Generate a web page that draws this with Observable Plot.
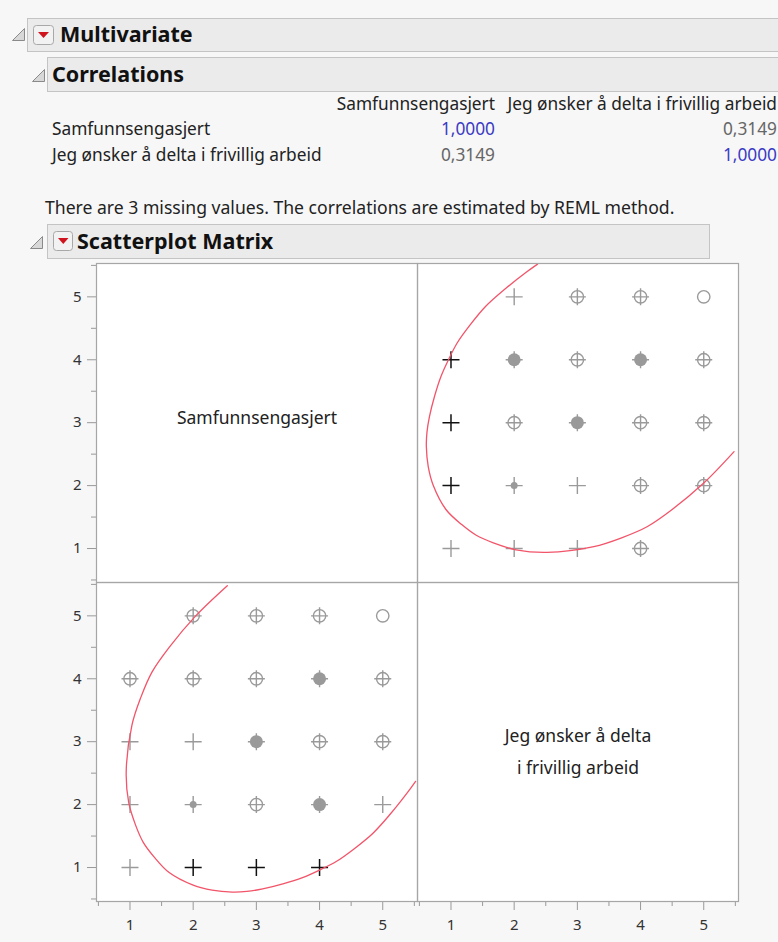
<!DOCTYPE html>
<html>
<head>
<meta charset="utf-8">
<script src="https://cdn.jsdelivr.net/npm/d3@7"></script>
<script src="https://cdn.jsdelivr.net/npm/@observablehq/plot@0.6"></script>
<style>
  html, body { margin: 0; padding: 0; }
  body { width: 778px; height: 942px; background: #f7f7f7; position: relative; overflow: hidden;
         font-family: "Segoe UI", "Noto Sans", sans-serif; color: #222; }
  .bar { position: absolute; background: #ebebeb; border: 1px solid #c4c4c4; box-sizing: border-box; }
  .hdr { position: absolute; font-weight: bold; font-size: 21.5px; color: #111; line-height: 1; }
  .t { position: absolute; font-size: 17.3px; line-height: 1; white-space: nowrap; }
  .note { font-size: 17.6px; }
  .blue { color: #3b3bc4; }
  .gray { color: #666; }
  #chart { position: absolute; left: 40px; top: 258px; }
  #icons { position: absolute; left: 0; top: 0; }
</style>
</head>
<body>
<!-- Multivariate header -->
<div class="bar" style="left:27px;top:18px;width:760px;height:34px;"></div>
<div class="hdr" style="left:60px;top:23px;">Multivariate</div>
<!-- Correlations header -->
<div class="bar" style="left:47px;top:57px;width:740px;height:35px;"></div>
<div class="hdr" style="left:52px;top:63px;">Correlations</div>

<div id="table"></div>

<!-- Scatterplot Matrix header -->
<div class="bar" style="left:47px;top:224px;width:663px;height:35px;"></div>
<div class="hdr" style="left:77px;top:230px;">Scatterplot Matrix</div>

<svg id="icons" width="778" height="260">
  <polygon points="12.5,40.5 24.5,40.5 24.5,28.5" fill="#d8d8d8" stroke="#8a8a8a" stroke-width="1"/>
  <rect x="33.5" y="25.5" width="20" height="19" rx="3" fill="#f2f2f2" stroke="#a8a8a8"/>
  <polygon points="38,32 49,32 43.5,38" fill="#d0141e"/>
  <polygon points="32.5,81.5 44.5,81.5 44.5,69.5" fill="#d8d8d8" stroke="#8a8a8a" stroke-width="1"/>
  <polygon points="30.5,248.5 42.5,248.5 42.5,236.5" fill="#d8d8d8" stroke="#8a8a8a" stroke-width="1"/>
  <rect x="53.5" y="231.5" width="19" height="19" rx="3" fill="#f2f2f2" stroke="#a8a8a8"/>
  <polygon points="58,238 68.5,238 63.25,244" fill="#d0141e"/>
</svg>

<div id="chart"></div>

<script>
// ---------------- data ----------------
const varNames = ["Samfunnsengasjert", "Jeg ønsker å delta i frivillig arbeid"];
const corrRows = [
  ["1,0000", "0,3149"],
  ["0,3149", "1,0000"]
];
const note = "There are 3 missing values. The correlations are estimated by REML method.";
const diagLabels = ["Samfunnsengasjert", "Jeg ønsker å delta\ni frivillig arbeid"];

// observed value combinations (Samfunnsengasjert, Jeg ønsker ...) and marker appearance
const samf = [5,5,5,5, 4,4,4,4,4, 3,3,3,3,3, 2,2,2,2,2, 1,1,1,1];
const jeg  = [2,3,4,5, 1,2,3,4,5, 1,2,3,4,5, 1,2,3,4,5, 1,2,3,4];
const kind = ["plus","cross","cross","circle",
              "black","dense","cross","dense","cross",
              "black","cross","dense","cross","cross",
              "black","small","plus","cross","cross",
              "plus","plus","plus","cross"];

// density ellipse (x = Jeg ønsker..., y = Samfunnsengasjert)
const ellJeg  = [2.37,2.19,1.85,1.55,1.30,1.10,0.96,0.84,0.74,0.66,0.62,0.61,0.64,0.72,0.92,1.17,1.40,1.67,2.03,2.52,3.26,3.70,4.11,4.50,5.00,5.48];
const ellSamf = [5.52,5.39,5.12,4.85,4.55,4.27,4.00,3.73,3.42,3.10,2.85,2.62,2.30,2.00,1.62,1.38,1.21,1.09,0.98,0.94,1.03,1.17,1.35,1.62,2.04,2.54];

const majorTicks = [1, 2, 3, 4, 5];
const minorTicks = [0.5, 1.5, 2.5, 3.5, 4.5, 5.5];

// ---------------- table (HTML text) ----------------
const tbl = document.getElementById("table");
function addText(txt, left, top, cls, right) {
  const d = document.createElement("div");
  d.className = "t " + (cls || "");
  d.textContent = txt;
  d.style.top = top + "px";
  if (right != null) { d.style.right = (778 - right) + "px"; } else { d.style.left = left + "px"; }
  tbl.appendChild(d);
}
const colRight = [495, 777];
varNames.forEach((v, j) => addText(v, null, 95, "", colRight[j]));
varNames.forEach((v, i) => {
  const top = 120 + i * 26;
  addText(v, 52, top, "");
  corrRows[i].forEach((val, j) => addText(val, null, top, i === j ? "blue" : "gray", colRight[j]));
});
addText(note, 45, 199, "note");

// ---------------- chart ----------------
const S = "Samfunnsengasjert", J = "Jeg ønsker";
const pts = [];
samf.forEach((s, i) => {
  pts.push({fx: J, fy: S, x: jeg[i], y: s, kind: kind[i]});   // top-right: x = Jeg, y = Samf
  pts.push({fx: S, fy: J, x: s, y: jeg[i], kind: kind[i]});   // bottom-left: x = Samf, y = Jeg
});
const ell = [];
ellJeg.forEach((v, i) => ell.push({fx: J, fy: S, x: v, y: ellSamf[i], panel: "tr"}));
ellJeg.forEach((v, i) => ell.push({fx: S, fy: J, x: ellSamf[i], y: v, panel: "bl"}));
const diag = [{fx: S, fy: S, label: diagLabels[0]}, {fx: J, fy: J, label: diagLabels[1]}];

const plusLine = {
  draw(ctx, size) {
    const r = Math.sqrt(size / Math.PI);
    ctx.moveTo(-r, 0); ctx.lineTo(r, 0);
    ctx.moveTo(0, -r); ctx.lineTo(0, r);
  }
};
const G = "#9a9a9a";

const chart = Plot.plot({
  width: 712,
  height: 684,
  marginLeft: 56,
  marginRight: 14,
  marginTop: 4,
  marginBottom: 41,
  style: {fontFamily: "'Segoe UI', 'Noto Sans', sans-serif", fontSize: "14px", background: "transparent", color: "#333"},
  fx: {domain: [S, J], paddingInner: 0, paddingOuter: 0, axis: null},
  fy: {domain: [S, J], paddingInner: 0, paddingOuter: 0, axis: null},
  x: {domain: [0.47, 5.55]},
  y: {domain: [0.46, 5.53]},
  marks: [
    Plot.frame({fill: "white", stroke: "none"}),
    Plot.axisX({ticks: majorTicks, tickSize: 9, tickPadding: 9, stroke: "#999", color: "#333", fontSize: 15, tickFormat: d => d, label: null}),
    Plot.axisX({ticks: minorTicks, tickSize: 5, stroke: "#999", tickFormat: () => null, label: null}),
    Plot.axisY({ticks: majorTicks, tickSize: 9, tickPadding: 6, stroke: "#999", color: "#333", fontSize: 15, tickFormat: d => d, label: null}),
    Plot.axisY({ticks: minorTicks, tickSize: 5, stroke: "#999", tickFormat: () => null, label: null}),
    Plot.text(diag.slice(0, 1), {fx: "fx", fy: "fy", text: "label", frameAnchor: "middle", dy: -5, fontSize: 17.5, fill: "#222"}),
    Plot.text(diag.slice(1), {fx: "fx", fy: "fy", text: "label", frameAnchor: "middle", dy: 6, fontSize: 17.5, fill: "#222", lineHeight: 1.78}),
    Plot.dot(pts.filter(d => d.kind === "dense"), {fx: "fx", fy: "fy", x: "x", y: "y", r: 6.5, fill: G, stroke: "none"}),
    Plot.dot(pts.filter(d => d.kind === "small"), {fx: "fx", fy: "fy", x: "x", y: "y", r: 3.5, fill: G, stroke: "none"}),
    Plot.dot(pts.filter(d => d.kind === "cross" || d.kind === "circle"), {fx: "fx", fy: "fy", x: "x", y: "y", r: 6.2, fill: "none", stroke: G, strokeWidth: 1.4}),
    Plot.dot(pts.filter(d => ["plus","cross","dense","small"].includes(d.kind)), {fx: "fx", fy: "fy", x: "x", y: "y", r: 8.5, symbol: plusLine, fill: "none", stroke: G, strokeWidth: 1.4}),
    Plot.dot(pts.filter(d => d.kind === "black"), {fx: "fx", fy: "fy", x: "x", y: "y", r: 8.5, symbol: plusLine, fill: "none", stroke: "#111", strokeWidth: 1.5}),
    Plot.line(ell, {fx: "fx", fy: "fy", x: "x", y: "y", z: "panel", stroke: "#f25469", strokeWidth: 1.3, curve: "catmull-rom", clip: true}),
    Plot.frame({stroke: "#a6a6a6", strokeWidth: 1.2})
  ]
});
document.getElementById("chart").appendChild(chart);
</script>
</body>
</html>
